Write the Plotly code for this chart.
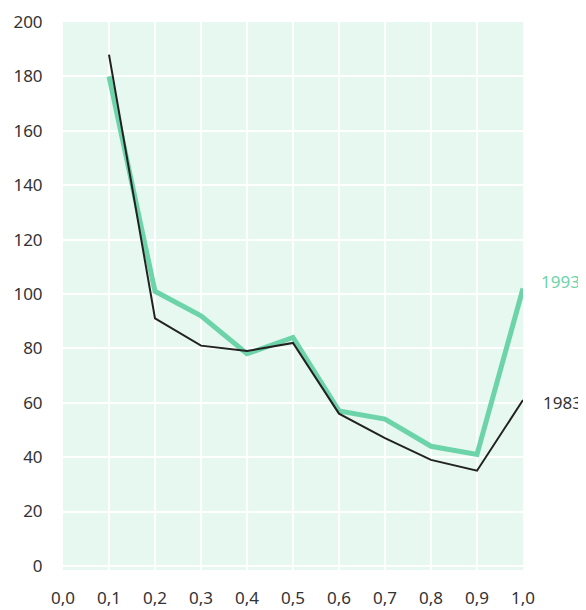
import plotly.graph_objects as go

x_vals = [0.1, 0.2, 0.3, 0.4, 0.5, 0.6, 0.7, 0.8, 0.9, 1.0]
y_1983 = [188, 91, 81, 79, 82, 56, 47, 39, 35, 61]
y_1993 = [180, 101, 92, 78, 84, 57, 54, 44, 41, 102]

x_tickvals = [0.0, 0.1, 0.2, 0.3, 0.4, 0.5, 0.6, 0.7, 0.8, 0.9, 1.0]
x_ticktext = ["0,0", "0,1", "0,2", "0,3", "0,4", "0,5", "0,6", "0,7", "0,8", "0,9", "1,0"]
y_tickvals = [0, 20, 40, 60, 80, 100, 120, 140, 160, 180, 200]

green = "#6dd3a9"
dark = "#222222"
font_family = "Noto Sans, Liberation Sans, sans-serif"

fig = go.Figure()
fig.add_trace(go.Scatter(x=x_vals, y=y_1993, mode="lines", name="1993",
                         line=dict(color=green, width=5)))
fig.add_trace(go.Scatter(x=x_vals, y=y_1983, mode="lines", name="1983",
                         line=dict(color=dark, width=2)))

fig.add_annotation(x=1.0, y=y_1993[-1], xref="x", yref="y", text="1993",
                   showarrow=False, xanchor="left", xshift=16, yshift=7,
                   font=dict(color=green, size=17, family=font_family))
fig.add_annotation(x=1.0, y=y_1983[-1], xref="x", yref="y", text="1983",
                   showarrow=False, xanchor="left", xshift=18, yshift=-2,
                   font=dict(color="#333333", size=17, family=font_family))

# page body has an 8px default margin; compensate in the figure size/margins
fig.update_layout(
    width=578, height=602,
    margin=dict(l=55, r=63, t=14, b=40, autoexpand=False),
    plot_bgcolor="#e6f8f0",
    paper_bgcolor="white",
    showlegend=False,
    font=dict(family=font_family, size=17, color="#333333"),
)
fig.update_xaxes(range=[0, 1], tickvals=x_tickvals, ticktext=x_ticktext,
                 showgrid=True, gridcolor="white", gridwidth=1.5,
                 zeroline=False, showline=False, automargin=False,
                 ticks="outside", ticklen=13, tickcolor="rgba(0,0,0,0)",
                 tickfont=dict(size=17, color="#333333"))
fig.update_yaxes(range=[-1.5, 200], tickvals=y_tickvals,
                 showgrid=True, gridcolor="white", gridwidth=1.5,
                 zeroline=False, showline=False, automargin=False,
                 ticks="outside", ticklen=16, tickcolor="rgba(0,0,0,0)",
                 tickfont=dict(size=17, color="#333333"))

fig.write_html("out.html")
